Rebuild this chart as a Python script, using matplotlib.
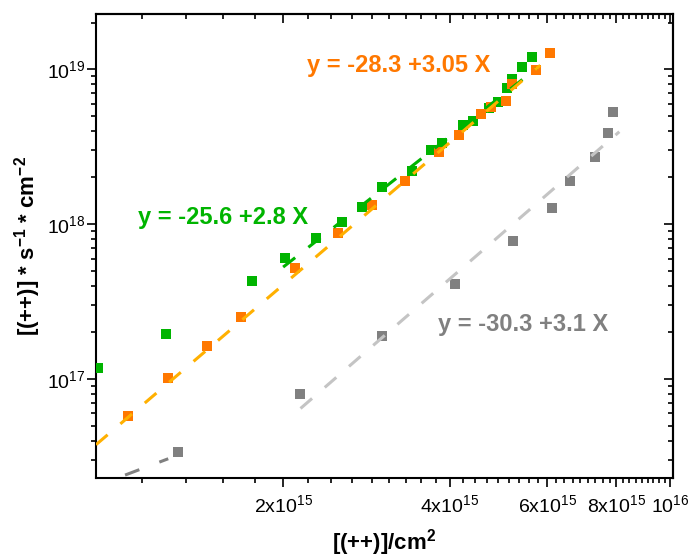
import matplotlib
matplotlib.use("Agg")
import matplotlib.pyplot as plt
import numpy as np
from matplotlib.ticker import FixedLocator, LogLocator, NullFormatter

plt.rcParams["font.family"] = ["Liberation Sans", "DejaVu Sans"]
plt.rcParams["mathtext.default"] = "regular"

# ---- data ---------------------------------------------------------------
green_x = [9.25e14, 1.229e15, 1.757e15, 2.017e15, 2.295e15, 2.557e15, 2.779e15,
           3.02e15, 3.42e15, 3.70e15, 3.88e15, 4.23e15, 4.41e15, 4.70e15,
           4.88e15, 5.08e15, 5.19e15, 5.41e15, 5.64e15]
green_y = [1.18e17, 1.95e17, 4.29e17, 6.04e17, 8.12e17, 1.03e18, 1.29e18,
           1.73e18, 2.20e18, 3.00e18, 3.33e18, 4.35e18, 4.62e18, 5.60e18,
           6.12e18, 7.54e18, 8.62e18, 1.03e19, 1.195e19]

orange_x = [1.049e15, 1.239e15, 1.457e15, 1.680e15, 2.10e15, 2.515e15, 2.90e15,
            3.32e15, 3.83e15, 4.15e15, 4.56e15, 4.74e15, 5.06e15, 5.19e15,
            5.73e15, 6.08e15]
orange_y = [5.77e16, 1.015e17, 1.63e17, 2.51e17, 5.20e17, 8.75e17, 1.33e18,
            1.89e18, 2.91e18, 3.75e18, 5.13e18, 5.69e18, 6.22e18, 8.00e18,
            9.86e18, 1.27e19]

gray_x = [1.291e15, 2.147e15, 3.02e15, 4.09e15, 5.21e15, 6.11e15, 6.61e15,
          7.33e15, 7.74e15, 7.90e15]
gray_y = [3.38e16, 8.0e16, 1.89e17, 4.10e17, 7.77e17, 1.27e18, 1.89e18,
          2.71e18, 3.87e18, 5.28e18]

# linear fits in log10 space: log y = a + b log x, over [x0, x1]
fit_a = {"green": -25.12, "orange": -29.06, "gray": -30.72, "gray_low": -3.89}
fit_b = {"green": 2.8, "orange": 3.05, "gray": 3.1, "gray_low": 1.35}
fit_range = {"green": (2.0e15, 5.75e15), "orange": (9.18e14, 5.83e15),
             "gray": (2.15e15, 8.1e15), "gray_low": (1.036e15, 1.24e15)}

fit_labels = {"green": "y = -25.6 +2.8 X", "orange": "y = -28.3 +3.05 X",
              "gray": "y = -30.3 +3.1 X"}

x_major = [2e15, 4e15, 6e15, 8e15, 1e16]
x_major_labels = ["2x10$^{15}$", "4x10$^{15}$", "6x10$^{15}$", "8x10$^{15}$",
                  "10$^{16}$"]
y_major = [1e17, 1e18, 1e19]
y_major_labels = ["10$^{17}$", "10$^{18}$", "10$^{19}$"]

XLIM = (9.18e14, 1.0125e16)
YLIM = (2.3e16, 2.27e19)

GREEN = "#00b400"
ORANGE = "#ff7800"
ORANGE_FIT = "#ffb000"
GRAY = "#808080"
GRAY_FIT = "#c4c4c4"


def fit_line(ax, key, color, gaps=5.5):
    lx = np.log10(np.array(fit_range[key]))
    xs = np.logspace(lx[0], lx[1], 50)
    ys = 10 ** (fit_a[key] + fit_b[key] * np.log10(xs))
    ln, = ax.plot(xs, ys, color=color, lw=2.2, ls="--", zorder=4)
    ln.set_dashes((5, gaps))
    ln.set_dash_capstyle("butt")


fig = plt.figure(figsize=(6.9, 5.6), dpi=100)
ax = fig.add_axes([0.1391, 0.1464, 0.8362, 0.8286])
ax.set_xscale("log")
ax.set_yscale("log")

ms = 7.5
ax.plot(gray_x, gray_y, "s", color=GRAY, ms=ms, mew=0, zorder=3)
fit_line(ax, "gray", GRAY_FIT)
fit_line(ax, "gray_low", GRAY, gaps=7)
ax.plot(green_x, green_y, "s", color=GREEN, ms=ms, mew=0, zorder=3)
fit_line(ax, "green", GREEN)
ax.plot(orange_x, orange_y, "s", color=ORANGE, ms=ms, mew=0, zorder=3.5)
fit_line(ax, "orange", ORANGE_FIT)

ax.text(2.21e15, 1.06e19, fit_labels["orange"], color=ORANGE, fontsize=17,
        fontweight="bold", ha="left", va="center")
ax.text(1.094e15, 1.11e18, fit_labels["green"], color=GREEN, fontsize=17,
        fontweight="bold", ha="left", va="center")
ax.text(3.814e15, 2.265e17, fit_labels["gray"], color=GRAY, fontsize=17,
        fontweight="bold", ha="left", va="center")

ax.set_xlim(*XLIM)
ax.set_ylim(*YLIM)

# ticks: 8 minor steps between the 2e15-spaced majors
x_minor = [k * 2e15 / 9 for k in range(4, 46) if k % 9]
y_minor = LogLocator(base=10, subs=np.arange(2, 10))

ax.xaxis.set_major_locator(FixedLocator(x_major))
ax.xaxis.set_minor_locator(FixedLocator(x_minor))
ax.set_xticklabels(x_major_labels)
ax.xaxis.set_minor_formatter(NullFormatter())
ax.yaxis.set_major_locator(FixedLocator(y_major))
ax.set_yticklabels(y_major_labels)
ax.yaxis.set_minor_locator(y_minor)
ax.yaxis.set_minor_formatter(NullFormatter())

ax.tick_params(which="both", direction="out", width=1.2, labelsize=14,
               top=False, right=False)
ax.tick_params(which="major", length=6.5)
ax.tick_params(which="minor", length=3.5)
ax.tick_params(axis="x", pad=5)
ax.tick_params(axis="y", pad=1)

top = ax.secondary_xaxis("top")
top.xaxis.set_major_locator(FixedLocator(x_major))
top.xaxis.set_minor_locator(FixedLocator(x_minor))
top.xaxis.set_major_formatter(NullFormatter())
top.xaxis.set_minor_formatter(NullFormatter())
top.tick_params(which="both", direction="in", width=1.2)
top.tick_params(which="major", length=6.5)
top.tick_params(which="minor", length=3.5)

right = ax.secondary_yaxis("right")
right.yaxis.set_major_locator(FixedLocator(y_major))
right.yaxis.set_minor_locator(LogLocator(base=10, subs=np.arange(2, 10)))
right.yaxis.set_major_formatter(NullFormatter())
right.yaxis.set_minor_formatter(NullFormatter())
right.tick_params(which="both", direction="in", width=1.2)
right.tick_params(which="major", length=6.5)
right.tick_params(which="minor", length=3.5)

for a in (ax, top, right):
    for sp in a.spines.values():
        sp.set_linewidth(1.5)

ax.set_xlabel("[(++)]/cm$^{2}$", fontsize=16, fontweight="bold", labelpad=8)
ax.set_ylabel("[(++)] * s$^{-1}$ * cm$^{-2}$", fontsize=16, fontweight="bold",
              labelpad=3)

fig.savefig("out.png", dpi=100)
